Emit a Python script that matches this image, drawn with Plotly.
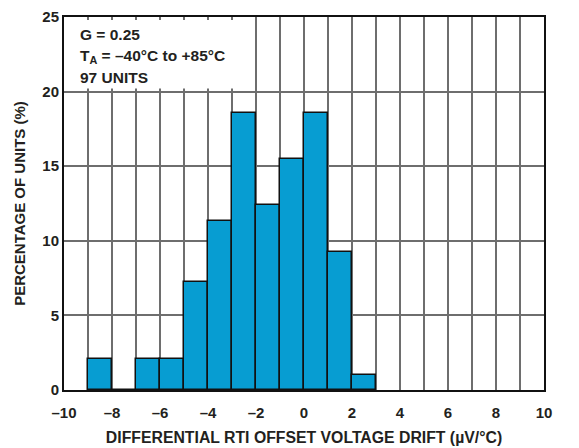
"""Histogram of differential RTI offset voltage drift (G = 0.25, 97 units)."""

import plotly.graph_objects as go

# ── data ──────────────────────────────────────────────────────────────────────
bin_start   = [-9, -8, -7, -6, -5, -4, -3, -2, -1, 0, 1, 2]
pct_units   = [2.06, 0, 2.06, 2.06, 7.22, 11.34, 18.56, 12.37, 15.46, 18.56, 9.28, 1.03]

x_tickvals  = [-10, -8, -6, -4, -2, 0, 2, 4, 6, 8, 10]
x_ticktext  = ['–10', '–8', '–6', '–4', '–2', '0', '2', '4', '6', '8', '10']
y_tickvals  = [0, 5, 10, 15, 20, 25]

notes       = ['G = 0.25', 'T<sub>A</sub> = –40°C to +85°C', '97 UNITS']

_FONT   = 'Liberation Sans, Arial, sans-serif'
_BAR    = '#079dd2'
_GRID   = '#6e6e6e'
_TEXT   = '#231f20'

fig = go.Figure(go.Bar(
    x=bin_start, y=pct_units,
    width=1, offset=0,
    marker=dict(color=_BAR, line=dict(color='#111111', width=1.5)),
    hoverinfo='skip',
))

axis_common = dict(
    showline=True, linecolor='#111111', linewidth=2, mirror=True,
    showgrid=True, gridcolor=_GRID, gridwidth=1.5,
    zeroline=False, ticks='', automargin=False,
    ticklabeloverflow='allow',
    tickfont=dict(family=_FONT, size=15, color=_TEXT, weight='bold'),
)

fig.update_xaxes(
    **axis_common,
    range=[-10, 10],
    tickvals=x_tickvals, ticktext=x_ticktext,
    ticklabelstandoff=8,
    minor=dict(dtick=1, showgrid=True, gridcolor=_GRID, gridwidth=1.5),
    title=dict(text='DIFFERENTIAL RTI OFFSET VOLTAGE DRIFT (µV/°C)',
               font=dict(family=_FONT, size=15.8, color=_TEXT, weight='bold'),
               standoff=12),
)
fig.update_yaxes(
    **axis_common,
    range=[0, 25],
    tickvals=y_tickvals,
    title=dict(text='PERCENTAGE OF UNITS (%)',
               font=dict(family=_FONT, size=15, color=_TEXT, weight='bold'),
               standoff=13),
)

# white box behind the notes (hides the grid there)
fig.add_shape(type='rect', xref='x', yref='y', x0=-10, x1=-2.07, y0=20.2, y1=24.8,
              fillcolor='white', line_width=0, layer='between')

for i, txt in enumerate(notes):
    fig.add_annotation(
        text=txt, xref='paper', yref='paper', x=0.03, y=0.952 - i * 0.057,
        xanchor='left', yanchor='middle', showarrow=False,
        font=dict(family=_FONT, size=15.5, color=_TEXT, weight='bold'),
    )

# page body adds an 8px offset, so margins are trimmed on the left/top
fig.update_layout(
    width=579, height=448,
    paper_bgcolor='white', plot_bgcolor='white',
    margin=dict(l=56, r=43, t=9, b=66),
    showlegend=False,
    bargap=0,
)

fig.write_html('out.html')
